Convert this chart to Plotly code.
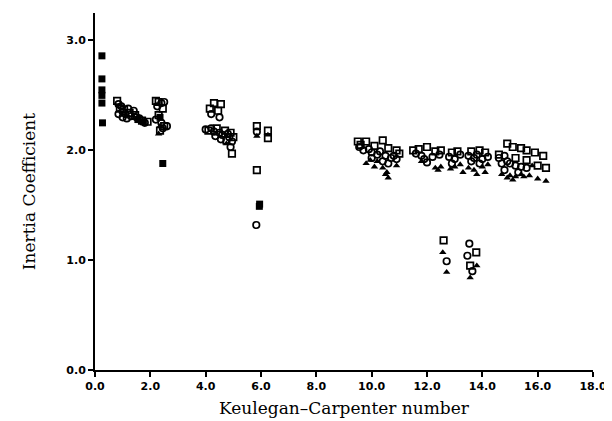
import plotly.graph_objects as go

# Open squares
sq_x = [0.8, 0.9, 1.05, 1.25, 1.45, 1.7, 1.9, 2.2, 2.3, 2.45, 2.3, 2.5, 2.35,
        4.15, 4.3, 4.55, 4.45, 4.1, 4.4, 4.7, 4.9, 4.75, 5.0, 4.95,
        5.85, 5.85, 6.25, 6.25,
        9.5, 9.8, 10.4, 9.6, 10.1, 10.6, 10.9, 11.0,
        11.5, 11.7, 12.0, 12.3, 12.5, 12.9, 13.1, 13.6, 13.9, 14.1,
        14.9, 15.1, 15.4, 15.6, 15.9, 16.2, 15.2, 15.6, 16.0, 16.3, 14.6,
        12.6, 13.78, 13.56]
sq_y = [2.45, 2.38, 2.37, 2.34, 2.32, 2.27, 2.26, 2.45, 2.44, 2.38, 2.32, 2.22, 2.18,
        2.38, 2.43, 2.42, 2.36, 2.18, 2.20, 2.18, 2.16, 2.09, 2.12, 1.97,
        2.22, 1.82, 2.18, 2.11,
        2.08, 2.08, 2.09, 2.05, 2.04, 2.02, 2.00, 1.97,
        2.00, 2.01, 2.03, 1.99, 2.00, 1.98, 1.99, 1.99, 2.00, 1.98,
        2.06, 2.03, 2.02, 2.00, 1.98, 1.95, 1.93, 1.91, 1.86, 1.84, 1.96,
        1.18, 1.07, 0.95]

# Open circles
ci_x = [0.85, 0.95, 1.0, 1.1, 1.2, 1.3, 1.4, 1.5, 1.6, 1.8, 1.0, 1.15, 0.85,
        2.4, 2.5, 2.25, 2.2, 2.4, 2.6, 2.45,
        4.2, 4.5, 4.0, 4.2, 4.3, 4.5, 4.6, 4.8, 4.35, 4.55, 4.85, 4.95, 4.9,
        5.85, 5.83,
        9.55, 9.7, 9.9, 10.0, 10.2, 10.3, 10.5, 10.7, 10.9, 10.0, 10.4, 10.6, 10.8,
        11.6, 11.8, 11.9, 12.2, 12.45, 12.0,
        12.8, 13.0, 13.2, 12.9,
        13.5, 13.7, 13.8, 14.0, 14.2, 13.9, 13.6,
        14.6, 14.8, 14.9, 15.0, 15.2, 14.7, 15.4, 15.6, 14.8, 15.3,
        12.71, 13.53, 13.46, 13.64]
ci_y = [2.42, 2.40, 2.35, 2.33, 2.38, 2.31, 2.36, 2.30, 2.29, 2.25, 2.30, 2.29, 2.33,
        2.43, 2.44, 2.40, 2.28, 2.25, 2.22, 2.20,
        2.33, 2.30, 2.19, 2.20, 2.17, 2.16, 2.14, 2.15, 2.13, 2.10, 2.12, 2.08, 2.03,
        2.17, 1.32,
        2.03, 2.00, 2.01, 1.98, 1.96, 1.99, 1.95, 1.93, 1.92, 1.93, 1.90, 1.88, 1.95,
        1.97, 1.95, 1.92, 1.94, 1.96, 1.89,
        1.94, 1.92, 1.96, 1.88,
        1.95, 1.93, 1.96, 1.92, 1.94, 1.88, 1.90,
        1.93, 1.95, 1.90, 1.88, 1.86, 1.88, 1.85, 1.84, 1.82, 1.80,
        0.99, 1.15, 1.04, 0.90]

# Filled (solid) points
fi_x = [0.25, 0.25, 0.25, 0.25, 0.25, 0.27, 2.45, 5.94, 5.95, 1.75, 1.55, 2.35]
fi_y = [2.86, 2.65, 2.55, 2.50, 2.43, 2.25, 1.88, 1.49, 1.51, 2.26, 2.28, 2.30]

# Filled triangles
tr_x = [2.3, 2.35, 4.75, 5.85, 6.25,
        9.8, 10.1, 10.4, 10.55, 10.6, 10.5, 10.9, 10.2, 9.95,
        11.8, 12.3, 12.4, 12.5,
        12.85, 13.0, 13.2, 13.3,
        13.5, 13.7, 14.0, 14.1, 14.2, 13.8,
        14.7, 14.9, 15.0, 15.2, 15.4, 15.5, 15.7, 15.8, 16.0, 16.3, 15.1,
        12.57, 12.71, 13.8, 13.56]
tr_y = [2.15, 2.22, 2.06, 2.13, 2.14,
        1.88, 1.85, 1.84, 1.80, 1.75, 1.78, 1.86, 1.90, 1.91,
        1.90, 1.84, 1.82, 1.85,
        1.83, 1.85, 1.87, 1.80,
        1.84, 1.82, 1.85, 1.80, 1.87, 1.78,
        1.78, 1.75, 1.77, 1.76, 1.78, 1.76, 1.77, 1.86, 1.74, 1.72, 1.73,
        1.07, 0.89, 0.95, 0.84]

x_ticks = [0, 2, 4, 6, 8, 10, 12, 14, 16, 18]
x_tick_labels = ["0.0", "2.0", "4.0", "6.0", "8.0", "10.0", "12.0", "14.0", "16.0", "18.0"]
y_ticks = [0, 1, 2, 3]
y_tick_labels = ["0.0", "1.0", "2.0", "3.0"]

fig = go.Figure()
fig.add_trace(go.Scatter(x=sq_x, y=sq_y, mode="markers",
                         marker=dict(symbol="square-open", size=6.5, color="black",
                                     line=dict(width=1.7, color="black"))))
fig.add_trace(go.Scatter(x=ci_x, y=ci_y, mode="markers",
                         marker=dict(symbol="circle-open", size=6.5, color="black",
                                     line=dict(width=1.7, color="black"))))
fig.add_trace(go.Scatter(x=fi_x, y=fi_y, mode="markers",
                         marker=dict(symbol="square", size=7, color="black",
                                     line=dict(width=0))))
fig.add_trace(go.Scatter(x=tr_x, y=tr_y, mode="markers",
                         marker=dict(symbol="triangle-up", size=6.5, color="black")))

fig.update_layout(
    width=612, height=421,
    margin=dict(l=87, r=27, t=5, b=59),
    paper_bgcolor="white", plot_bgcolor="white",
    showlegend=False,
    font=dict(family="DejaVu Serif", color="black"),
)
fig.update_xaxes(
    range=[0, 18], tickvals=x_ticks, ticktext=x_tick_labels,
    showgrid=False, zeroline=False, showline=True, linecolor="black", linewidth=2,
    ticks="outside", ticklen=5, tickwidth=1.5, tickcolor="black",
    tickfont=dict(family="DejaVu Sans", size=11, weight="bold"),
    title=dict(text="Keulegan\u2013Carpenter number", font=dict(family="DejaVu Serif", size=17), standoff=10),
)
fig.update_yaxes(
    range=[0, 3.25], tickvals=y_ticks, ticktext=y_tick_labels,
    showgrid=False, zeroline=False, showline=True, linecolor="black", linewidth=2,
    ticks="outside", ticklen=5, tickwidth=1.5, tickcolor="black",
    tickfont=dict(family="DejaVu Sans", size=11, weight="bold"),
    title=dict(text="Inertia Coefficient", font=dict(family="DejaVu Serif", size=17), standoff=26),
)

fig.write_html("out.html")
